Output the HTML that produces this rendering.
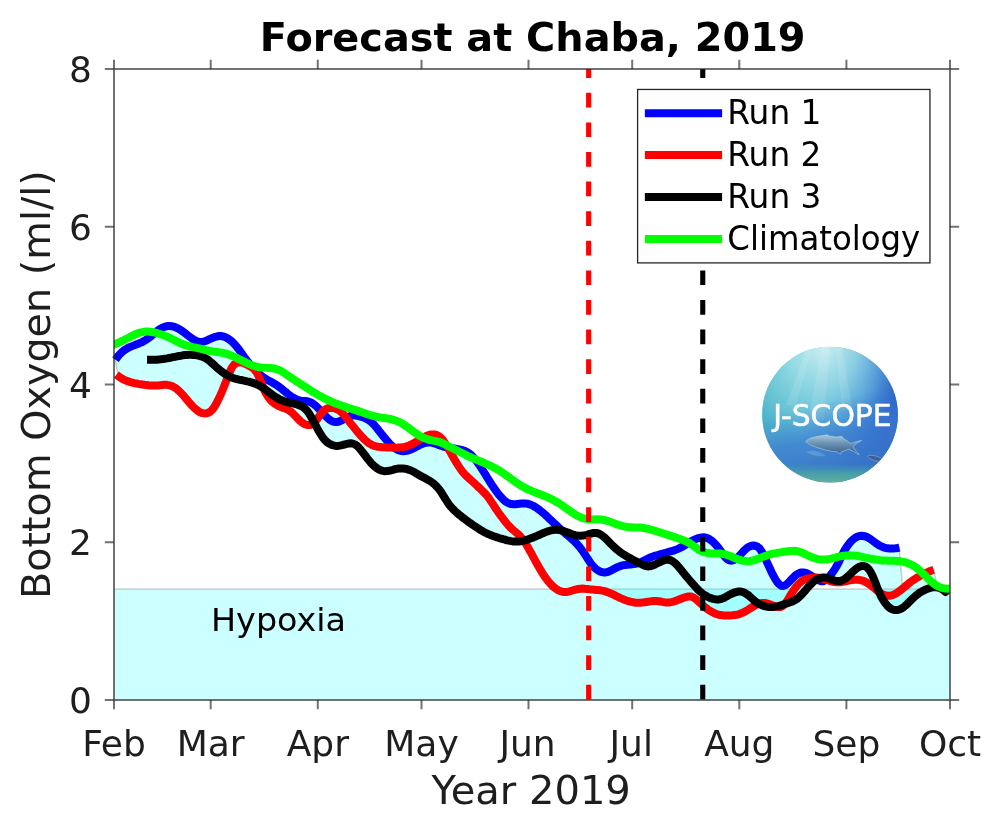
<!DOCTYPE html>
<html lang="en"><head><meta charset="utf-8"><title>Forecast at Chaba, 2019</title>
<style>
html,body{margin:0;padding:0;background:#fff;}
svg{display:block;}
text{font-family:"DejaVu Sans","Liberation Sans",sans-serif;}
.tk{font-size:36px;fill:#1e1e1e;}
.lb{font-size:40px;fill:#1e1e1e;}
.lg{font-size:32.8px;fill:#000;}
</style></head><body>
<svg width="1000" height="825" viewBox="0 0 1000 825">
<defs>
<clipPath id="ax"><rect x="114.0" y="69.0" width="836.0" height="631.0"/></clipPath>
<clipPath id="logoclip"><circle cx="830" cy="414.6" r="67.9"/></clipPath>
<linearGradient id="lgA" x1="0" y1="0" x2="1" y2="0">
<stop offset="0" stop-color="#4fb6c8"/><stop offset="0.3" stop-color="#5ec4d4"/><stop offset="0.56" stop-color="#58b4d8"/><stop offset="0.73" stop-color="#4090d4"/><stop offset="0.87" stop-color="#2e6cce"/><stop offset="1" stop-color="#2a5cc4"/>
</linearGradient>
<linearGradient id="lgB" x1="0.3" y1="0" x2="0.55" y2="1">
<stop offset="0" stop-color="#3c7ad0" stop-opacity="0"/><stop offset="0.42" stop-color="#3c7ad0" stop-opacity="0.08"/><stop offset="0.66" stop-color="#3b78d0" stop-opacity="0.75"/><stop offset="0.9" stop-color="#3672c8" stop-opacity="0.92"/><stop offset="1" stop-color="#3672c8" stop-opacity="0.92"/>
</linearGradient>
<radialGradient id="lgC" cx="0.45" cy="0" r="0.72" gradientTransform="translate(0.45 0) scale(0.85 1) translate(-0.45 0)">
<stop offset="0" stop-color="#d2f2f2" stop-opacity="0.95"/><stop offset="0.4" stop-color="#a8e4ea" stop-opacity="0.75"/><stop offset="0.75" stop-color="#8cd8e4" stop-opacity="0.35"/><stop offset="1" stop-color="#7fd4e0" stop-opacity="0"/>
</radialGradient>
<radialGradient id="lgD" cx="0.18" cy="0.25" r="0.4">
<stop offset="0" stop-color="#6accd2" stop-opacity="0.7"/><stop offset="1" stop-color="#6accd2" stop-opacity="0"/>
</radialGradient>
<linearGradient id="lgE" x1="0" y1="0" x2="0" y2="1">
<stop offset="0" stop-color="#3aa6a0" stop-opacity="0"/><stop offset="0.86" stop-color="#3f9ea8" stop-opacity="0"/><stop offset="0.93" stop-color="#4aa4a4" stop-opacity="0.85"/><stop offset="1" stop-color="#62b09c" stop-opacity="1"/>
</linearGradient>
<linearGradient id="fishg" x1="0" y1="0" x2="0" y2="1">
<stop offset="0" stop-color="#a8cadc"/><stop offset="0.45" stop-color="#6890b0"/><stop offset="1" stop-color="#3c5e90"/>
</linearGradient>
</defs>
<rect width="1000" height="825" fill="#fff"/>

<g clip-path="url(#ax)">
<rect x="114.0" y="589.6" width="836.0" height="110.4" fill="#00ffff" fill-opacity="0.2"/>
<line x1="114.0" y1="589.1" x2="950.0" y2="589.1" stroke="#000" stroke-opacity="0.17" stroke-width="1.8"/>
<path d="M115.0,359.7 L118.5,355.6 L121.9,352.0 L125.4,349.4 L128.9,347.5 L132.3,346.0 L135.8,344.7 L139.2,343.3 L142.7,341.7 L146.1,339.7 L149.6,337.3 L153.0,334.5 L156.5,331.6 L159.9,329.0 L163.4,327.2 L166.9,326.2 L170.3,326.0 L173.8,326.7 L177.2,328.0 L180.7,330.0 L184.1,332.5 L187.6,335.1 L191.0,337.8 L194.5,340.1 L197.9,341.6 L201.4,342.0 L204.9,341.2 L208.3,339.8 L211.8,338.2 L215.2,336.8 L218.7,336.1 L222.1,336.2 L225.6,337.3 L229.0,339.3 L232.5,342.2 L235.9,345.8 L239.4,350.2 L242.9,355.1 L246.3,359.9 L249.8,364.0 L253.2,367.9 L256.7,371.7 L260.1,374.9 L263.6,377.5 L267.0,379.6 L270.5,381.5 L273.9,383.5 L277.4,385.7 L280.9,388.2 L284.3,390.9 L287.8,393.8 L291.2,396.4 L294.7,398.5 L298.1,400.0 L301.6,400.7 L305.0,401.0 L308.5,401.5 L311.9,403.0 L315.4,405.5 L318.9,408.8 L322.3,412.1 L325.8,409.1 L329.2,408.0 L332.7,408.1 L336.1,408.9 L339.6,410.7 L343.0,413.9 L346.5,417.6 L349.9,416.1 L353.4,415.5 L356.9,415.7 L360.3,416.5 L363.8,417.6 L367.2,419.1 L370.7,421.5 L374.1,424.9 L377.6,429.0 L381.0,433.3 L384.5,437.7 L387.9,441.8 L391.4,445.4 L394.9,447.7 L398.3,447.6 L401.8,447.4 L405.2,446.7 L408.7,445.6 L412.1,444.0 L415.6,442.1 L419.0,439.9 L422.5,437.8 L425.9,436.1 L429.4,434.9 L432.9,434.4 L436.3,434.8 L439.8,436.8 L443.2,440.6 L446.7,445.8 L450.1,448.0 L453.6,448.5 L457.0,449.1 L460.5,449.7 L463.9,450.7 L467.4,452.2 L470.9,454.7 L474.3,458.3 L477.8,462.8 L481.2,467.9 L484.7,473.4 L488.1,479.0 L491.6,484.5 L495.0,489.6 L498.5,494.2 L501.9,498.2 L505.4,501.3 L508.9,503.4 L512.3,504.2 L515.8,504.2 L519.2,503.8 L522.7,503.5 L526.1,503.5 L529.6,504.3 L533.0,505.8 L536.5,507.8 L539.9,510.3 L543.4,513.2 L546.9,516.3 L550.3,519.6 L553.8,522.9 L557.2,526.1 L560.7,529.3 L564.1,531.2 L567.6,532.5 L571.0,533.8 L574.5,534.9 L577.9,535.7 L581.4,535.8 L584.9,535.3 L588.3,534.4 L591.8,533.4 L595.2,532.9 L598.7,533.6 L602.1,535.5 L605.6,538.4 L609.0,541.9 L612.5,545.5 L615.9,548.7 L619.4,551.5 L622.9,554.0 L626.3,556.1 L629.8,558.1 L633.2,559.9 L636.7,561.8 L640.1,562.5 L643.6,560.9 L647.0,559.0 L650.5,557.4 L653.9,556.1 L657.4,555.1 L660.9,554.2 L664.3,553.2 L667.8,552.2 L671.2,551.2 L674.7,550.2 L678.1,548.9 L681.6,547.2 L685.0,545.1 L688.5,542.9 L691.9,540.9 L695.4,539.2 L698.9,537.9 L702.3,537.3 L705.8,537.6 L709.2,539.0 L712.7,541.6 L716.1,545.1 L719.6,549.4 L723.0,554.3 L726.5,558.5 L729.9,560.6 L733.4,560.3 L736.9,558.0 L740.3,554.7 L743.8,551.0 L747.2,547.8 L750.7,546.0 L754.1,545.6 L757.6,546.8 L761.0,550.4 L764.5,556.8 L767.9,564.3 L771.4,571.8 L774.9,578.4 L778.3,583.4 L781.8,585.8 L785.2,585.3 L788.7,582.3 L792.1,578.7 L795.6,575.3 L799.0,573.2 L802.5,572.4 L805.9,573.0 L809.4,574.6 L812.9,576.8 L816.3,577.6 L819.8,578.0 L823.2,577.5 L826.7,577.9 L830.1,575.4 L833.6,571.0 L837.0,565.5 L840.5,558.5 L843.9,551.4 L847.4,545.9 L850.9,541.6 L854.3,538.4 L857.8,536.5 L861.2,535.8 L864.7,536.2 L868.1,537.6 L871.6,539.9 L875.0,542.6 L878.5,544.9 L881.9,546.7 L885.4,547.9 L888.9,548.4 L892.3,548.5 L895.8,548.2 L899.2,547.6 L902.7,588.5 L906.1,585.6 L909.6,582.8 L913.0,580.2 L916.5,578.0 L919.9,576.0 L923.4,574.2 L926.9,572.5 L930.3,571.0 L933.8,569.9 L937.2,587.4 L940.7,588.4 L944.1,590.7 L944.1,590.7 L940.7,588.4 L937.2,587.4 L933.8,587.3 L930.3,587.9 L926.9,589.0 L923.4,590.6 L919.9,592.6 L916.5,595.1 L913.0,598.2 L909.6,601.6 L906.1,605.0 L902.7,607.8 L899.2,609.5 L895.8,610.0 L892.3,609.4 L888.9,607.2 L885.4,603.4 L881.9,598.0 L878.5,591.6 L875.0,588.8 L871.6,586.0 L868.1,583.4 L864.7,581.4 L861.2,580.2 L857.8,579.7 L854.3,579.8 L850.9,580.2 L847.4,580.8 L843.9,581.6 L840.5,582.2 L837.0,582.3 L833.6,581.9 L830.1,581.0 L826.7,579.9 L823.2,581.2 L819.8,580.8 L816.3,579.6 L812.9,582.2 L809.4,585.7 L805.9,589.7 L802.5,593.7 L799.0,597.2 L795.6,599.9 L792.1,601.6 L788.7,602.8 L785.2,603.9 L781.8,606.6 L778.3,607.0 L774.9,606.7 L771.4,607.0 L767.9,606.8 L764.5,606.1 L761.0,604.9 L757.6,604.2 L754.1,605.9 L750.7,608.1 L747.2,610.3 L743.8,612.2 L740.3,613.7 L736.9,614.7 L733.4,615.2 L729.9,615.4 L726.5,615.5 L723.0,615.4 L719.6,614.9 L716.1,613.9 L712.7,612.3 L709.2,610.3 L705.8,607.8 L702.3,605.0 L698.9,601.9 L695.4,598.8 L691.9,596.8 L688.5,596.5 L685.0,597.3 L681.6,598.6 L678.1,600.0 L674.7,601.2 L671.2,602.1 L667.8,602.4 L664.3,602.1 L660.9,601.6 L657.4,601.1 L653.9,601.0 L650.5,601.4 L647.0,601.9 L643.6,602.5 L640.1,602.7 L636.7,602.7 L633.2,602.3 L629.8,601.5 L626.3,600.5 L622.9,599.1 L619.4,597.6 L615.9,595.9 L612.5,594.3 L609.0,592.7 L605.6,591.4 L602.1,590.6 L598.7,590.2 L595.2,589.9 L591.8,589.6 L588.3,589.1 L584.9,588.7 L581.4,588.6 L577.9,589.0 L574.5,589.9 L571.0,590.9 L567.6,591.8 L564.1,592.0 L560.7,591.2 L557.2,589.6 L553.8,587.1 L550.3,583.7 L546.9,579.5 L543.4,574.6 L539.9,569.0 L536.5,562.9 L533.0,556.5 L529.6,550.3 L526.1,544.4 L522.7,540.9 L519.2,541.4 L515.8,541.6 L512.3,541.3 L508.9,540.7 L505.4,539.8 L501.9,538.9 L498.5,537.8 L495.0,536.7 L491.6,535.4 L488.1,534.0 L484.7,532.3 L481.2,530.3 L477.8,528.2 L474.3,525.9 L470.9,523.5 L467.4,521.0 L463.9,518.5 L460.5,515.8 L457.0,512.9 L453.6,509.7 L450.1,505.8 L446.7,501.0 L443.2,495.4 L439.8,490.2 L436.3,486.1 L432.9,483.0 L429.4,480.6 L425.9,478.7 L422.5,476.9 L419.0,475.0 L415.6,473.0 L412.1,471.1 L408.7,469.6 L405.2,468.8 L401.8,468.4 L398.3,468.6 L394.9,469.3 L391.4,470.2 L387.9,471.0 L384.5,471.1 L381.0,470.4 L377.6,468.7 L374.1,466.1 L370.7,462.5 L367.2,458.3 L363.8,453.7 L360.3,449.2 L356.9,445.6 L353.4,443.7 L349.9,443.4 L346.5,443.9 L343.0,444.9 L339.6,445.7 L336.1,445.8 L332.7,445.2 L329.2,443.7 L325.8,440.9 L322.3,436.8 L318.9,431.2 L315.4,424.9 L311.9,424.4 L308.5,425.0 L305.0,424.3 L301.6,422.2 L298.1,418.9 L294.7,415.3 L291.2,411.9 L287.8,409.7 L284.3,408.3 L280.9,407.0 L277.4,405.4 L273.9,403.1 L270.5,399.9 L267.0,395.3 L263.6,388.4 L260.1,386.1 L256.7,384.3 L253.2,383.0 L249.8,381.9 L246.3,381.1 L242.9,380.4 L239.4,379.7 L235.9,378.9 L232.5,377.8 L229.0,376.2 L225.6,382.6 L222.1,391.1 L218.7,398.9 L215.2,405.5 L211.8,410.3 L208.3,412.7 L204.9,413.4 L201.4,412.8 L197.9,411.0 L194.5,408.1 L191.0,404.5 L187.6,400.5 L184.1,396.4 L180.7,392.6 L177.2,389.3 L173.8,387.0 L170.3,385.5 L166.9,384.9 L163.4,384.9 L159.9,385.2 L156.5,385.6 L153.0,385.6 L149.6,385.4 L146.1,385.0 L142.7,384.6 L139.2,384.0 L135.8,383.4 L132.3,382.6 L128.9,381.6 L125.4,380.3 L121.9,378.5 L118.5,376.3 L115.0,359.7 Z" fill="#00ffff" fill-opacity="0.2" stroke="#000" stroke-opacity="0.18" stroke-width="1.6"/>
</g>
<path d="M115.5,359.7 L117.5,356.9 L119.5,354.5 L121.5,352.4 L123.5,350.8 L125.5,349.4 L127.5,348.2 L129.5,347.2 L131.5,346.4 L133.5,345.6 L135.5,344.8 L137.5,344.0 L139.5,343.2 L141.5,342.3 L143.5,341.3 L145.5,340.1 L147.5,338.8 L149.5,337.4 L151.5,335.8 L153.5,334.1 L155.5,332.4 L157.5,330.8 L159.5,329.3 L161.5,328.1 L163.5,327.2 L165.5,326.5 L167.5,326.1 L169.5,326.0 L171.5,326.2 L173.5,326.6 L175.5,327.3 L177.5,328.2 L179.5,329.3 L181.5,330.6 L183.5,332.0 L185.5,333.5 L187.5,335.1 L189.5,336.6 L191.5,338.1 L193.5,339.5 L195.5,340.6 L197.5,341.5 L199.5,341.9 L201.5,342.0 L203.5,341.6 L205.5,341.0 L207.5,340.2 L209.5,339.2 L211.5,338.3 L213.5,337.5 L215.5,336.8 L217.5,336.3 L219.5,336.0 L221.5,336.1 L223.5,336.5 L225.5,337.2 L227.5,338.3 L229.5,339.6 L231.5,341.2 L233.5,343.1 L235.5,345.3 L237.5,347.7 L239.5,350.3 L241.5,353.1 L243.5,356.0 L245.5,358.8 L247.5,361.4 L249.5,363.7 L251.5,366.0 L253.5,368.2 L255.5,370.4 L257.5,372.5 L259.5,374.4 L261.5,376.0 L263.5,377.5 L265.5,378.7 L267.5,379.9 L269.5,381.0 L271.5,382.1 L273.5,383.2 L275.5,384.4 L277.5,385.7 L279.5,387.1 L281.5,388.7 L283.5,390.3 L285.5,391.9 L287.5,393.6 L289.5,395.1 L291.5,396.6 L293.5,397.8 L295.5,398.9 L297.5,399.8 L299.5,400.4 L301.5,400.7 L303.5,400.9 L305.5,401.1 L307.5,401.3 L309.5,401.8 L311.5,402.7 L313.5,404.0 L315.5,405.6 L317.5,407.4 L319.5,409.5 L321.5,411.6 L323.5,413.9 L325.5,416.0 L327.5,418.0 L329.5,419.6 L331.5,420.9 L333.5,421.7 L335.5,422.1 L337.5,421.9 L339.5,421.3 L341.5,420.4 L343.5,419.3 L345.5,418.2 L347.5,417.1 L349.5,416.3 L351.5,415.7 L353.5,415.4 L355.5,415.5 L357.5,415.8 L359.5,416.3 L361.5,416.8 L363.5,417.5 L365.5,418.3 L367.5,419.3 L369.5,420.6 L371.5,422.3 L373.5,424.2 L375.5,426.5 L377.5,428.9 L379.5,431.4 L381.5,433.9 L383.5,436.5 L385.5,438.9 L387.5,441.3 L389.5,443.5 L391.5,445.5 L393.5,447.2 L395.5,448.6 L397.5,449.8 L399.5,450.6 L401.5,451.0 L403.5,451.2 L405.5,451.1 L407.5,450.7 L409.5,450.0 L411.5,449.2 L413.5,448.3 L415.5,447.2 L417.5,446.2 L419.5,445.1 L421.5,444.2 L423.5,443.4 L425.5,442.8 L427.5,442.5 L429.5,442.4 L431.5,442.6 L433.5,443.1 L435.5,443.8 L437.5,444.5 L439.5,445.3 L441.5,446.0 L443.5,446.6 L445.5,447.1 L447.5,447.5 L449.5,447.9 L451.5,448.2 L453.5,448.5 L455.5,448.8 L457.5,449.1 L459.5,449.5 L461.5,449.9 L463.5,450.5 L465.5,451.3 L467.5,452.3 L469.5,453.6 L471.5,455.3 L473.5,457.4 L475.5,459.7 L477.5,462.4 L479.5,465.3 L481.5,468.3 L483.5,471.5 L485.5,474.7 L487.5,478.0 L489.5,481.2 L491.5,484.3 L493.5,487.3 L495.5,490.2 L497.5,492.9 L499.5,495.4 L501.5,497.7 L503.5,499.7 L505.5,501.4 L507.5,502.7 L509.5,503.6 L511.5,504.1 L513.5,504.3 L515.5,504.2 L517.5,504.0 L519.5,503.8 L521.5,503.6 L523.5,503.4 L525.5,503.5 L527.5,503.7 L529.5,504.3 L531.5,505.0 L533.5,506.0 L535.5,507.2 L537.5,508.5 L539.5,510.0 L541.5,511.6 L543.5,513.3 L545.5,515.0 L547.5,516.9 L549.5,518.8 L551.5,520.7 L553.5,522.6 L555.5,524.5 L557.5,526.4 L559.5,528.3 L561.5,530.1 L563.5,531.8 L565.5,533.6 L567.5,535.3 L569.5,537.0 L571.5,538.7 L573.5,540.5 L575.5,542.5 L577.5,544.6 L579.5,546.9 L581.5,549.5 L583.5,552.3 L585.5,555.3 L587.5,558.5 L589.5,561.5 L591.5,564.4 L593.5,566.7 L595.5,568.6 L597.5,570.1 L599.5,571.2 L601.5,572.0 L603.5,572.4 L605.5,572.4 L607.5,572.0 L609.5,571.2 L611.5,570.3 L613.5,569.2 L615.5,568.2 L617.5,567.2 L619.5,566.3 L621.5,565.7 L623.5,565.2 L625.5,564.9 L627.5,564.7 L629.5,564.5 L631.5,564.4 L633.5,564.1 L635.5,563.8 L637.5,563.3 L639.5,562.7 L641.5,561.9 L643.5,560.9 L645.5,559.9 L647.5,558.8 L649.5,557.8 L651.5,557.0 L653.5,556.3 L655.5,555.6 L657.5,555.1 L659.5,554.5 L661.5,554.0 L663.5,553.4 L665.5,552.9 L667.5,552.3 L669.5,551.7 L671.5,551.2 L673.5,550.6 L675.5,549.9 L677.5,549.1 L679.5,548.2 L681.5,547.2 L683.5,546.0 L685.5,544.8 L687.5,543.5 L689.5,542.3 L691.5,541.1 L693.5,540.1 L695.5,539.2 L697.5,538.4 L699.5,537.8 L701.5,537.4 L703.5,537.3 L705.5,537.5 L707.5,538.2 L709.5,539.2 L711.5,540.6 L713.5,542.3 L715.5,544.4 L717.5,546.7 L719.5,549.3 L721.5,552.1 L723.5,555.0 L725.5,557.5 L727.5,559.4 L729.5,560.4 L731.5,560.7 L733.5,560.2 L735.5,559.1 L737.5,557.5 L739.5,555.5 L741.5,553.4 L743.5,551.2 L745.5,549.3 L747.5,547.6 L749.5,546.5 L751.5,545.8 L753.5,545.6 L755.5,545.8 L757.5,546.7 L759.5,548.4 L761.5,551.2 L763.5,554.8 L765.5,558.9 L767.5,563.3 L769.5,567.7 L771.5,572.0 L773.5,575.9 L775.5,579.5 L777.5,582.4 L779.5,584.5 L781.5,585.8 L783.5,585.9 L785.5,585.1 L787.5,583.5 L789.5,581.5 L791.5,579.3 L793.5,577.3 L795.5,575.4 L797.5,574.0 L799.5,573.0 L801.5,572.5 L803.5,572.4 L805.5,572.9 L807.5,573.6 L809.5,574.7 L811.5,575.9 L813.5,577.2 L815.5,578.5 L817.5,579.7 L819.5,580.7 L821.5,581.3 L823.5,581.2 L825.5,580.2 L827.5,578.4 L829.5,576.2 L831.5,573.8 L833.5,571.1 L835.5,568.1 L837.5,564.6 L839.5,560.6 L841.5,556.3 L843.5,552.3 L845.5,548.7 L847.5,545.7 L849.5,543.2 L851.5,540.9 L853.5,539.1 L855.5,537.6 L857.5,536.6 L859.5,536.0 L861.5,535.8 L863.5,536.0 L865.5,536.5 L867.5,537.3 L869.5,538.4 L871.5,539.9 L873.5,541.4 L875.5,542.9 L877.5,544.3 L879.5,545.5 L881.5,546.5 L883.5,547.3 L885.5,547.9 L887.5,548.3 L889.5,548.5 L891.5,548.5 L893.5,548.5 L895.5,548.3 L897.5,548.0 L899.4,547.6" fill="none" stroke="#0000ff" stroke-width="8.0" stroke-linejoin="round" stroke-linecap="butt"/>
<path d="M116.4,374.6 L118.4,376.2 L120.4,377.6 L122.4,378.8 L124.4,379.8 L126.4,380.7 L128.4,381.4 L130.4,382.1 L132.4,382.6 L134.4,383.1 L136.4,383.5 L138.4,383.9 L140.4,384.2 L142.4,384.5 L144.4,384.8 L146.4,385.0 L148.4,385.3 L150.4,385.5 L152.4,385.6 L154.4,385.6 L156.4,385.6 L158.4,385.4 L160.4,385.2 L162.4,385.0 L164.4,384.8 L166.4,384.8 L168.4,385.1 L170.4,385.6 L172.4,386.3 L174.4,387.4 L176.4,388.7 L178.4,390.4 L180.4,392.3 L182.4,394.4 L184.4,396.7 L186.4,399.1 L188.4,401.5 L190.4,403.8 L192.4,406.0 L194.4,408.0 L196.4,409.8 L198.4,411.3 L200.4,412.4 L202.4,413.1 L204.4,413.4 L206.4,413.3 L208.4,412.7 L210.4,411.5 L212.4,409.5 L214.4,406.8 L216.4,403.4 L218.4,399.4 L220.4,395.1 L222.4,390.5 L224.4,385.6 L226.4,380.5 L228.4,375.3 L230.4,370.4 L232.4,366.7 L234.4,364.3 L236.4,363.0 L238.4,362.4 L240.4,362.3 L242.4,362.6 L244.4,363.3 L246.4,364.3 L248.4,365.4 L250.4,366.5 L252.4,367.8 L254.4,369.5 L256.4,372.0 L258.4,375.8 L260.4,380.5 L262.4,385.5 L264.4,390.3 L266.4,394.2 L268.4,397.3 L270.4,399.8 L272.4,401.8 L274.4,403.4 L276.4,404.8 L278.4,405.9 L280.4,406.8 L282.4,407.6 L284.4,408.3 L286.4,409.0 L288.4,410.0 L290.4,411.3 L292.4,413.0 L294.4,415.0 L296.4,417.1 L298.4,419.2 L300.4,421.2 L302.4,422.8 L304.4,424.0 L306.4,424.7 L308.4,425.0 L310.4,424.9 L312.4,424.2 L314.4,422.6 L316.4,420.2 L318.4,417.3 L320.4,414.5 L322.4,412.0 L324.4,410.1 L326.4,408.8 L328.4,408.1 L330.4,407.9 L332.4,408.0 L334.4,408.4 L336.4,409.0 L338.4,409.9 L340.4,411.3 L342.4,413.2 L344.4,415.5 L346.4,418.0 L348.4,420.5 L350.4,423.1 L352.4,425.6 L354.4,428.0 L356.4,430.5 L358.4,432.9 L360.4,435.2 L362.4,437.4 L364.4,439.4 L366.4,441.2 L368.4,442.8 L370.4,444.1 L372.4,445.2 L374.4,445.9 L376.4,446.5 L378.4,446.8 L380.4,447.0 L382.4,447.2 L384.4,447.3 L386.4,447.4 L388.4,447.5 L390.4,447.6 L392.4,447.6 L394.4,447.7 L396.4,447.7 L398.4,447.6 L400.4,447.5 L402.4,447.3 L404.4,446.9 L406.4,446.4 L408.4,445.7 L410.4,444.8 L412.4,443.9 L414.4,442.8 L416.4,441.6 L418.4,440.3 L420.4,439.1 L422.4,437.9 L424.4,436.8 L426.4,435.9 L428.4,435.1 L430.4,434.6 L432.4,434.4 L434.4,434.4 L436.4,434.9 L438.4,435.8 L440.4,437.4 L442.4,439.5 L444.4,442.2 L446.4,445.3 L448.4,448.7 L450.4,452.2 L452.4,455.7 L454.4,459.3 L456.4,462.7 L458.4,465.9 L460.4,468.9 L462.4,471.6 L464.4,473.9 L466.4,476.0 L468.4,477.9 L470.4,479.6 L472.4,481.4 L474.4,483.2 L476.4,485.1 L478.4,487.0 L480.4,488.9 L482.4,490.8 L484.4,492.8 L486.4,495.0 L488.4,497.5 L490.4,500.4 L492.4,503.4 L494.4,506.5 L496.4,509.6 L498.4,512.5 L500.4,515.3 L502.4,517.9 L504.4,520.5 L506.4,523.0 L508.4,525.3 L510.4,527.5 L512.4,529.4 L514.4,531.0 L516.4,532.7 L518.4,534.4 L520.4,536.4 L522.4,538.9 L524.4,541.7 L526.4,544.8 L528.4,548.2 L530.4,551.7 L532.4,555.4 L534.4,559.1 L536.4,562.7 L538.4,566.3 L540.4,569.7 L542.4,573.0 L544.4,576.1 L546.4,578.9 L548.4,581.5 L550.4,583.8 L552.4,585.9 L554.4,587.6 L556.4,589.1 L558.4,590.3 L560.4,591.2 L562.4,591.7 L564.4,592.0 L566.4,592.0 L568.4,591.6 L570.4,591.1 L572.4,590.5 L574.4,589.9 L576.4,589.4 L578.4,589.0 L580.4,588.7 L582.4,588.6 L584.4,588.7 L586.4,588.9 L588.4,589.1 L590.4,589.4 L592.4,589.6 L594.4,589.8 L596.4,590.0 L598.4,590.1 L600.4,590.3 L602.4,590.7 L604.4,591.1 L606.4,591.7 L608.4,592.5 L610.4,593.3 L612.4,594.2 L614.4,595.2 L616.4,596.2 L618.4,597.1 L620.4,598.1 L622.4,598.9 L624.4,599.8 L626.4,600.5 L628.4,601.1 L630.4,601.7 L632.4,602.1 L634.4,602.5 L636.4,602.7 L638.4,602.7 L640.4,602.7 L642.4,602.6 L644.4,602.3 L646.4,602.0 L648.4,601.7 L650.4,601.4 L652.4,601.1 L654.4,601.0 L656.4,601.0 L658.4,601.2 L660.4,601.5 L662.4,601.9 L664.4,602.2 L666.4,602.4 L668.4,602.4 L670.4,602.2 L672.4,601.8 L674.4,601.3 L676.4,600.6 L678.4,599.8 L680.4,599.0 L682.4,598.2 L684.4,597.5 L686.4,596.9 L688.4,596.5 L690.4,596.4 L692.4,597.0 L694.4,598.1 L696.4,599.7 L698.4,601.4 L700.4,603.3 L702.4,605.0 L704.4,606.7 L706.4,608.3 L708.4,609.8 L710.4,611.1 L712.4,612.2 L714.4,613.2 L716.4,614.0 L718.4,614.6 L720.4,615.1 L722.4,615.3 L724.4,615.5 L726.4,615.5 L728.4,615.5 L730.4,615.4 L732.4,615.3 L734.4,615.1 L736.4,614.8 L738.4,614.3 L740.4,613.7 L742.4,612.8 L744.4,611.9 L746.4,610.8 L748.4,609.5 L750.4,608.2 L752.4,607.0 L754.4,605.8 L756.4,604.7 L758.4,603.9 L760.4,603.3 L762.4,603.0 L764.4,603.0 L766.4,603.3 L768.4,603.9 L770.4,604.5 L772.4,605.3 L774.4,606.1 L776.4,606.7 L778.4,607.0 L780.4,607.0 L782.4,606.2 L784.4,604.6 L786.4,602.0 L788.4,598.7 L790.4,595.3 L792.4,592.1 L794.4,589.2 L796.4,586.5 L798.4,584.2 L800.4,582.3 L802.4,580.7 L804.4,579.6 L806.4,578.8 L808.4,578.3 L810.4,577.9 L812.4,577.7 L814.4,577.6 L816.4,577.6 L818.4,577.7 L820.4,578.1 L822.4,578.6 L824.4,579.2 L826.4,579.8 L828.4,580.5 L830.4,581.1 L832.4,581.6 L834.4,582.0 L836.4,582.3 L838.4,582.3 L840.4,582.2 L842.4,581.9 L844.4,581.5 L846.4,581.1 L848.4,580.6 L850.4,580.2 L852.4,579.9 L854.4,579.7 L856.4,579.7 L858.4,579.8 L860.4,580.1 L862.4,580.6 L864.4,581.3 L866.4,582.3 L868.4,583.6 L870.4,585.1 L872.4,586.6 L874.4,588.3 L876.4,590.0 L878.4,591.5 L880.4,592.9 L882.4,594.1 L884.4,595.0 L886.4,595.6 L888.4,595.8 L890.4,595.7 L892.4,595.2 L894.4,594.3 L896.4,593.2 L898.4,591.8 L900.4,590.4 L902.4,588.7 L904.4,587.1 L906.4,585.4 L908.4,583.7 L910.4,582.1 L912.4,580.6 L914.4,579.3 L916.4,578.0 L918.4,576.9 L920.4,575.8 L922.4,574.7 L924.4,573.7 L926.4,572.7 L928.4,571.8 L930.4,571.0 L932.4,570.3 L933.7,569.9" fill="none" stroke="#ff0000" stroke-width="8.0" stroke-linejoin="round" stroke-linecap="butt"/>
<path d="M147.0,359.8 L149.0,359.8 L151.0,359.8 L153.0,359.8 L155.0,359.8 L157.0,359.7 L159.0,359.5 L161.0,359.3 L163.0,359.0 L165.0,358.7 L167.0,358.4 L169.0,358.0 L171.0,357.6 L173.0,357.2 L175.0,356.8 L177.0,356.4 L179.0,356.0 L181.0,355.7 L183.0,355.3 L185.0,355.1 L187.0,354.9 L189.0,354.8 L191.0,354.8 L193.0,354.9 L195.0,355.1 L197.0,355.4 L199.0,355.7 L201.0,356.3 L203.0,357.0 L205.0,357.9 L207.0,359.1 L209.0,360.5 L211.0,362.2 L213.0,364.0 L215.0,365.9 L217.0,367.7 L219.0,369.4 L221.0,371.0 L223.0,372.5 L225.0,373.9 L227.0,375.1 L229.0,376.2 L231.0,377.2 L233.0,378.0 L235.0,378.6 L237.0,379.1 L239.0,379.6 L241.0,380.0 L243.0,380.4 L245.0,380.8 L247.0,381.3 L249.0,381.7 L251.0,382.3 L253.0,382.9 L255.0,383.6 L257.0,384.5 L259.0,385.5 L261.0,386.6 L263.0,387.9 L265.0,389.3 L267.0,390.8 L269.0,392.3 L271.0,393.7 L273.0,395.2 L275.0,396.6 L277.0,397.8 L279.0,399.0 L281.0,400.0 L283.0,400.8 L285.0,401.5 L287.0,402.1 L289.0,402.6 L291.0,403.0 L293.0,403.4 L295.0,403.9 L297.0,404.4 L299.0,405.1 L301.0,406.0 L303.0,407.1 L305.0,408.7 L307.0,410.7 L309.0,413.4 L311.0,416.7 L313.0,420.3 L315.0,424.1 L317.0,427.9 L319.0,431.5 L321.0,434.8 L323.0,437.7 L325.0,440.2 L327.0,442.1 L329.0,443.5 L331.0,444.6 L333.0,445.3 L335.0,445.7 L337.0,445.9 L339.0,445.7 L341.0,445.4 L343.0,444.9 L345.0,444.3 L347.0,443.8 L349.0,443.4 L351.0,443.3 L353.0,443.6 L355.0,444.4 L357.0,445.8 L359.0,447.7 L361.0,450.1 L363.0,452.7 L365.0,455.3 L367.0,458.0 L369.0,460.5 L371.0,462.9 L373.0,465.0 L375.0,466.8 L377.0,468.3 L379.0,469.5 L381.0,470.4 L383.0,470.9 L385.0,471.2 L387.0,471.1 L389.0,470.8 L391.0,470.3 L393.0,469.8 L395.0,469.2 L397.0,468.8 L399.0,468.5 L401.0,468.4 L403.0,468.5 L405.0,468.7 L407.0,469.2 L409.0,469.8 L411.0,470.5 L413.0,471.5 L415.0,472.6 L417.0,473.8 L419.0,475.0 L421.0,476.2 L423.0,477.2 L425.0,478.2 L427.0,479.3 L429.0,480.4 L431.0,481.6 L433.0,483.1 L435.0,484.8 L437.0,486.8 L439.0,489.2 L441.0,491.9 L443.0,495.1 L445.0,498.3 L447.0,501.5 L449.0,504.4 L451.0,506.9 L453.0,509.1 L455.0,511.1 L457.0,512.9 L459.0,514.6 L461.0,516.2 L463.0,517.8 L465.0,519.3 L467.0,520.7 L469.0,522.2 L471.0,523.6 L473.0,525.0 L475.0,526.3 L477.0,527.7 L479.0,529.0 L481.0,530.2 L483.0,531.4 L485.0,532.5 L487.0,533.5 L489.0,534.4 L491.0,535.2 L493.0,536.0 L495.0,536.7 L497.0,537.3 L499.0,538.0 L501.0,538.6 L503.0,539.2 L505.0,539.7 L507.0,540.3 L509.0,540.7 L511.0,541.1 L513.0,541.4 L515.0,541.6 L517.0,541.6 L519.0,541.4 L521.0,541.2 L523.0,540.8 L525.0,540.3 L527.0,539.7 L529.0,539.0 L531.0,538.3 L533.0,537.6 L535.0,536.7 L537.0,535.9 L539.0,535.0 L541.0,534.1 L543.0,533.2 L545.0,532.4 L547.0,531.6 L549.0,531.0 L551.0,530.4 L553.0,530.1 L555.0,529.8 L557.0,529.8 L559.0,530.0 L561.0,530.3 L563.0,530.9 L565.0,531.5 L567.0,532.2 L569.0,533.0 L571.0,533.8 L573.0,534.5 L575.0,535.1 L577.0,535.5 L579.0,535.8 L581.0,535.8 L583.0,535.6 L585.0,535.3 L587.0,534.8 L589.0,534.2 L591.0,533.6 L593.0,533.1 L595.0,532.9 L597.0,533.1 L599.0,533.7 L601.0,534.8 L603.0,536.2 L605.0,537.9 L607.0,539.8 L609.0,541.9 L611.0,544.0 L613.0,546.0 L615.0,547.9 L617.0,549.6 L619.0,551.2 L621.0,552.7 L623.0,554.1 L625.0,555.3 L627.0,556.5 L629.0,557.7 L631.0,558.7 L633.0,559.8 L635.0,560.9 L637.0,561.9 L639.0,563.0 L641.0,564.0 L643.0,565.0 L645.0,565.8 L647.0,566.3 L649.0,566.4 L651.0,566.0 L653.0,565.4 L655.0,564.5 L657.0,563.5 L659.0,562.5 L661.0,561.6 L663.0,560.7 L665.0,560.1 L667.0,559.7 L669.0,559.8 L671.0,560.4 L673.0,561.5 L675.0,563.1 L677.0,565.0 L679.0,567.3 L681.0,569.7 L683.0,572.2 L685.0,574.7 L687.0,577.2 L689.0,579.5 L691.0,581.8 L693.0,584.1 L695.0,586.4 L697.0,588.6 L699.0,590.6 L701.0,592.4 L703.0,594.0 L705.0,595.3 L707.0,596.5 L709.0,597.5 L711.0,598.2 L713.0,598.8 L715.0,599.2 L717.0,599.4 L719.0,599.4 L721.0,599.0 L723.0,598.3 L725.0,597.3 L727.0,596.2 L729.0,595.1 L731.0,594.0 L733.0,593.1 L735.0,592.4 L737.0,591.8 L739.0,591.5 L741.0,591.6 L743.0,592.1 L745.0,593.0 L747.0,594.3 L749.0,595.8 L751.0,597.6 L753.0,599.4 L755.0,601.2 L757.0,602.7 L759.0,604.0 L761.0,604.9 L763.0,605.7 L765.0,606.3 L767.0,606.7 L769.0,606.9 L771.0,607.0 L773.0,606.9 L775.0,606.7 L777.0,606.3 L779.0,605.9 L781.0,605.3 L783.0,604.7 L785.0,604.0 L787.0,603.3 L789.0,602.7 L791.0,602.0 L793.0,601.2 L795.0,600.2 L797.0,598.9 L799.0,597.2 L801.0,595.3 L803.0,593.1 L805.0,590.8 L807.0,588.5 L809.0,586.2 L811.0,584.0 L813.0,582.1 L815.0,580.5 L817.0,579.2 L819.0,578.3 L821.0,577.8 L823.0,577.5 L825.0,577.6 L827.0,577.9 L829.0,578.5 L831.0,579.2 L833.0,580.0 L835.0,580.6 L837.0,581.0 L839.0,581.0 L841.0,580.7 L843.0,579.9 L845.0,578.8 L847.0,577.2 L849.0,575.3 L851.0,573.4 L853.0,571.4 L855.0,569.7 L857.0,568.1 L859.0,566.9 L861.0,566.2 L863.0,565.9 L865.0,566.3 L867.0,567.4 L869.0,569.5 L871.0,572.7 L873.0,576.8 L875.0,581.7 L877.0,587.0 L879.0,591.9 L881.0,596.2 L883.0,599.8 L885.0,602.8 L887.0,605.3 L889.0,607.3 L891.0,608.8 L893.0,609.6 L895.0,610.0 L897.0,610.0 L899.0,609.6 L901.0,608.8 L903.0,607.6 L905.0,606.0 L907.0,604.2 L909.0,602.2 L911.0,600.2 L913.0,598.2 L915.0,596.4 L917.0,594.7 L919.0,593.2 L921.0,591.9 L923.0,590.8 L925.0,589.8 L927.0,589.0 L929.0,588.3 L931.0,587.7 L933.0,587.3 L935.0,587.2 L937.0,587.3 L939.0,587.8 L941.0,588.6 L943.0,589.8 L945.0,591.5 L945.5,592.0 L950,587.6" fill="none" stroke="#000000" stroke-width="8.0" stroke-linejoin="round" stroke-linecap="butt" clip-path="url(#ax)"/>
<path d="M110.0,346.4 L112.0,345.5 L114.0,344.6 L116.0,343.7 L118.0,342.8 L120.0,341.9 L122.0,341.0 L124.0,340.0 L126.0,339.0 L128.0,338.0 L130.0,336.9 L132.0,335.9 L134.0,334.9 L136.0,334.0 L138.0,333.2 L140.0,332.6 L142.0,332.2 L144.0,331.8 L146.0,331.6 L148.0,331.6 L150.0,331.7 L152.0,332.0 L154.0,332.3 L156.0,332.8 L158.0,333.4 L160.0,334.0 L162.0,334.7 L164.0,335.4 L166.0,336.2 L168.0,337.1 L170.0,338.0 L172.0,339.0 L174.0,340.0 L176.0,341.1 L178.0,342.1 L180.0,343.0 L182.0,343.8 L184.0,344.6 L186.0,345.3 L188.0,345.9 L190.0,346.4 L192.0,346.9 L194.0,347.3 L196.0,347.7 L198.0,348.1 L200.0,348.6 L202.0,349.1 L204.0,349.6 L206.0,350.1 L208.0,350.6 L210.0,351.0 L212.0,351.3 L214.0,351.6 L216.0,351.9 L218.0,352.1 L220.0,352.4 L222.0,352.8 L224.0,353.2 L226.0,353.7 L228.0,354.3 L230.0,355.0 L232.0,355.8 L234.0,356.7 L236.0,357.6 L238.0,358.6 L240.0,359.6 L242.0,360.6 L244.0,361.6 L246.0,362.6 L248.0,363.5 L250.0,364.4 L252.0,365.2 L254.0,365.9 L256.0,366.5 L258.0,367.0 L260.0,367.4 L262.0,367.6 L264.0,367.7 L266.0,367.8 L268.0,367.9 L270.0,368.0 L272.0,368.2 L274.0,368.5 L276.0,369.0 L278.0,369.6 L280.0,370.5 L282.0,371.6 L284.0,372.8 L286.0,374.2 L288.0,375.6 L290.0,377.0 L292.0,378.4 L294.0,379.7 L296.0,381.0 L298.0,382.2 L300.0,383.5 L302.0,384.8 L304.0,386.1 L306.0,387.4 L308.0,388.7 L310.0,390.0 L312.0,391.3 L314.0,392.5 L316.0,393.7 L318.0,394.9 L320.0,396.0 L322.0,397.1 L324.0,398.1 L326.0,399.1 L328.0,400.1 L330.0,401.0 L332.0,401.9 L334.0,402.7 L336.0,403.5 L338.0,404.3 L340.0,405.0 L342.0,405.7 L344.0,406.4 L346.0,407.1 L348.0,407.8 L350.0,408.4 L352.0,409.0 L354.0,409.7 L356.0,410.3 L358.0,410.9 L360.0,411.6 L362.0,412.3 L364.0,413.0 L366.0,413.7 L368.0,414.4 L370.0,415.0 L372.0,415.6 L374.0,416.1 L376.0,416.6 L378.0,417.0 L380.0,417.4 L382.0,417.7 L384.0,418.0 L386.0,418.3 L388.0,418.6 L390.0,419.0 L392.0,419.5 L394.0,420.0 L396.0,420.7 L398.0,421.5 L400.0,422.4 L402.0,423.5 L404.0,424.7 L406.0,426.1 L408.0,427.5 L410.0,429.0 L412.0,430.5 L414.0,432.0 L416.0,433.4 L418.0,434.8 L420.0,436.0 L422.0,437.1 L424.0,438.0 L426.0,438.8 L428.0,439.5 L430.0,440.0 L432.0,440.4 L434.0,440.8 L436.0,441.2 L438.0,441.6 L440.0,442.2 L442.0,443.0 L444.0,443.9 L446.0,444.9 L448.0,445.9 L450.0,447.0 L452.0,448.0 L454.0,449.0 L456.0,450.0 L458.0,451.0 L460.0,452.0 L462.0,453.0 L464.0,454.0 L466.0,455.1 L468.0,456.1 L470.0,457.0 L472.0,457.9 L474.0,458.7 L476.0,459.6 L478.0,460.4 L480.0,461.2 L482.0,462.0 L484.0,462.9 L486.0,463.8 L488.0,464.7 L490.0,465.6 L492.0,466.6 L494.0,467.6 L496.0,468.7 L498.0,469.8 L500.0,471.0 L502.0,472.3 L504.0,473.7 L506.0,475.1 L508.0,476.5 L510.0,478.0 L512.0,479.5 L514.0,480.9 L516.0,482.4 L518.0,483.7 L520.0,485.0 L522.0,486.2 L524.0,487.3 L526.0,488.3 L528.0,489.3 L530.0,490.2 L532.0,491.1 L534.0,491.9 L536.0,492.7 L538.0,493.4 L540.0,494.2 L542.0,495.0 L544.0,495.8 L546.0,496.6 L548.0,497.5 L550.0,498.4 L552.0,499.4 L554.0,500.4 L556.0,501.5 L558.0,502.7 L560.0,504.0 L562.0,505.3 L564.0,506.7 L566.0,508.2 L568.0,509.6 L570.0,511.0 L572.0,512.4 L574.0,513.7 L576.0,514.9 L578.0,516.0 L580.0,517.0 L582.0,517.8 L584.0,518.4 L586.0,518.9 L588.0,519.2 L590.0,519.4 L592.0,519.4 L594.0,519.4 L596.0,519.3 L598.0,519.3 L600.0,519.4 L602.0,519.6 L604.0,520.0 L606.0,520.5 L608.0,521.1 L610.0,521.8 L612.0,522.5 L614.0,523.2 L616.0,524.0 L618.0,524.7 L620.0,525.3 L622.0,525.9 L624.0,526.3 L626.0,526.7 L628.0,527.0 L630.0,527.2 L632.0,527.3 L634.0,527.4 L636.0,527.4 L638.0,527.5 L640.0,527.6 L642.0,527.8 L644.0,528.1 L646.0,528.5 L648.0,528.9 L650.0,529.4 L652.0,529.9 L654.0,530.5 L656.0,531.1 L658.0,531.8 L660.0,532.4 L662.0,533.0 L664.0,533.7 L666.0,534.3 L668.0,534.9 L670.0,535.6 L672.0,536.3 L674.0,536.9 L676.0,537.6 L678.0,538.3 L680.0,539.0 L682.0,539.7 L684.0,540.5 L686.0,541.3 L688.0,542.3 L690.0,543.5 L692.0,544.9 L694.0,546.3 L696.0,547.8 L698.0,549.3 L700.0,550.5 L702.0,551.5 L704.0,552.2 L706.0,552.7 L708.0,553.1 L710.0,553.3 L712.0,553.4 L714.0,553.4 L716.0,553.4 L718.0,553.5 L720.0,553.6 L722.0,553.8 L724.0,554.2 L726.0,554.7 L728.0,555.3 L730.0,556.0 L732.0,556.8 L734.0,557.7 L736.0,558.5 L738.0,559.3 L740.0,560.0 L742.0,560.5 L744.0,560.9 L746.0,561.1 L748.0,561.2 L750.0,561.0 L752.0,560.6 L754.0,560.1 L756.0,559.5 L758.0,558.8 L760.0,558.0 L762.0,557.2 L764.0,556.4 L766.0,555.7 L768.0,555.0 L770.0,554.4 L772.0,553.9 L774.0,553.4 L776.0,553.1 L778.0,552.7 L780.0,552.4 L782.0,552.1 L784.0,551.8 L786.0,551.5 L788.0,551.2 L790.0,551.0 L792.0,550.9 L794.0,550.8 L796.0,551.0 L798.0,551.4 L800.0,552.0 L802.0,552.7 L804.0,553.6 L806.0,554.5 L808.0,555.5 L810.0,556.4 L812.0,557.2 L814.0,558.0 L816.0,558.6 L818.0,559.1 L820.0,559.4 L822.0,559.6 L824.0,559.6 L826.0,559.5 L828.0,559.3 L830.0,558.9 L832.0,558.5 L834.0,558.0 L836.0,557.4 L838.0,556.8 L840.0,556.4 L842.0,556.0 L844.0,555.7 L846.0,555.5 L848.0,555.4 L850.0,555.3 L852.0,555.4 L854.0,555.5 L856.0,555.7 L858.0,556.0 L860.0,556.4 L862.0,556.8 L864.0,557.3 L866.0,557.8 L868.0,558.2 L870.0,558.6 L872.0,559.0 L874.0,559.3 L876.0,559.6 L878.0,559.9 L880.0,560.2 L882.0,560.4 L884.0,560.5 L886.0,560.6 L888.0,560.7 L890.0,560.7 L892.0,560.8 L894.0,560.8 L896.0,560.9 L898.0,561.1 L900.0,561.3 L902.0,561.6 L904.0,562.0 L906.0,562.5 L908.0,563.2 L910.0,564.0 L912.0,565.0 L914.0,566.2 L916.0,567.5 L918.0,569.0 L920.0,570.7 L922.0,572.6 L924.0,574.5 L926.0,576.5 L928.0,578.5 L930.0,580.4 L932.0,582.2 L934.0,583.8 L936.0,585.2 L938.0,586.3 L940.0,587.2 L942.0,587.9 L944.0,588.4 L946.0,588.6 L948.0,588.7 L950.0,588.7 L952.0,588.7 L954.0,588.7" fill="none" stroke="#00ff00" stroke-width="8.0" stroke-linejoin="round" stroke-linecap="butt" clip-path="url(#ax)"/>
<line x1="588.65" y1="699.5" x2="588.65" y2="69.0" stroke="#ff0000" stroke-width="5.1" stroke-dasharray="14.7 14.9"/>
<line x1="702.75" y1="699.5" x2="702.75" y2="69.0" stroke="#000000" stroke-width="5.1" stroke-dasharray="14.7 14.9"/>
<rect x="114.0" y="69.0" width="836.0" height="631.0" fill="none" stroke="#262626" stroke-opacity="0.65" stroke-width="2"/>
<path d="M114.0,700.0 v9.2 M114.0,69.0 v-9.2 M210.7,700.0 v9.2 M210.7,69.0 v-9.2 M317.8,700.0 v9.2 M317.8,69.0 v-9.2 M421.5,700.0 v9.2 M421.5,69.0 v-9.2 M528.5,700.0 v9.2 M528.5,69.0 v-9.2 M632.2,700.0 v9.2 M632.2,69.0 v-9.2 M739.3,700.0 v9.2 M739.3,69.0 v-9.2 M846.4,700.0 v9.2 M846.4,69.0 v-9.2 M950.0,700.0 v9.2 M950.0,69.0 v-9.2 M114.0,700.0 h-9.2 M950.0,700.0 h9.2 M114.0,542.2 h-9.2 M950.0,542.2 h9.2 M114.0,384.5 h-9.2 M950.0,384.5 h9.2 M114.0,226.8 h-9.2 M950.0,226.8 h9.2 M114.0,69.0 h-9.2 M950.0,69.0 h9.2" fill="none" stroke="#262626" stroke-opacity="0.65" stroke-width="2"/>
<text class="tk" x="114.0" y="756.3" text-anchor="middle">Feb</text>
<text class="tk" x="210.7" y="756.3" text-anchor="middle">Mar</text>
<text class="tk" x="317.8" y="756.3" text-anchor="middle">Apr</text>
<text class="tk" x="421.5" y="756.3" text-anchor="middle">May</text>
<text class="tk" x="527.5" y="756.3" text-anchor="middle">Jun</text>
<text class="tk" x="631.2" y="756.3" text-anchor="middle">Jul</text>
<text class="tk" x="739.3" y="756.3" text-anchor="middle">Aug</text>
<text class="tk" x="846.4" y="756.3" text-anchor="middle">Sep</text>
<text class="tk" x="950.0" y="756.3" text-anchor="middle">Oct</text>
<text class="tk" x="91.8" y="713.1" text-anchor="end">0</text>
<text class="tk" x="91.8" y="555.4" text-anchor="end">2</text>
<text class="tk" x="91.8" y="397.6" text-anchor="end">4</text>
<text class="tk" x="91.8" y="239.8" text-anchor="end">6</text>
<text class="tk" x="91.8" y="82.1" text-anchor="end">8</text>
<text class="lb" x="531.2" y="804.3" text-anchor="middle" textLength="199.2" lengthAdjust="spacingAndGlyphs" style="font-size:39.3px">Year 2019</text>
<text class="lb" transform="translate(50.2,384.6) rotate(-90)" style="font-size:39.7px" text-anchor="middle">Bottom Oxygen (ml/l)</text>
<text x="532.7" y="50.5" text-anchor="middle" style="font-size:39.8px;font-weight:bold;fill:#000">Forecast at Chaba, 2019</text>
<text x="211" y="631" textLength="135" lengthAdjust="spacingAndGlyphs" style="font-size:32.5px;fill:#000">Hypoxia</text>
<rect x="637.6" y="89.45" width="292.35" height="173.45" fill="#fff" stroke="#262626" stroke-width="1.3"/>
<line x1="644.85" y1="113.2" x2="722.1" y2="113.2" stroke="#0000ff" stroke-width="8"/>
<text class="lg" x="727.3" y="124.3">Run 1</text>
<line x1="644.85" y1="155.1" x2="722.1" y2="155.1" stroke="#ff0000" stroke-width="8"/>
<text class="lg" x="727.3" y="166.3">Run 2</text>
<line x1="644.85" y1="197.0" x2="722.1" y2="197.0" stroke="#000000" stroke-width="8"/>
<text class="lg" x="727.3" y="208.3">Run 3</text>
<line x1="644.85" y1="238.9" x2="722.1" y2="238.9" stroke="#00ff00" stroke-width="8"/>
<text class="lg" x="727.3" y="250.3" textLength="193" lengthAdjust="spacingAndGlyphs">Climatology</text>
<g clip-path="url(#logoclip)">
<rect x="762" y="346.6" width="136" height="136" fill="url(#lgA)"/>
<rect x="762" y="346.6" width="136" height="136" fill="url(#lgD)"/>
<rect x="762" y="346.6" width="136" height="136" fill="url(#lgC)"/>
<path d="M822,346 L830,346 L824,420 L808,420 Z M836,346 L842,346 L852,410 L842,410 Z M806,350 L812,348 L796,405 L786,405 Z" fill="#ffffff" fill-opacity="0.12"/>
<rect x="762" y="346.6" width="136" height="136" fill="url(#lgB)"/>
<rect x="762" y="346.6" width="136" height="136" fill="url(#lgE)"/>
<path d="M805.5,441.6 C807,439.6 812,437 818,436.2 L822,435.6 L827.5,434.8 L829,436 C832,436.2 834,436.6 835.5,437 L842,436.4 L843.5,438.6 C846.5,440 848.5,442.4 850.5,443.4 L861.5,440.4 C857.5,442.6 854.5,444.6 853.2,446.6 C854.6,449.6 856.8,452.4 859.2,454.6 L849,449.2 C846.5,450.4 843.5,451.2 841.5,451.6 L840.5,454.2 L837,451.8 C831,451.6 825,450 820,448.4 C814,446.6 808.5,444.4 805.5,441.6 Z" fill="url(#fishg)" stroke="#b4d6e6" stroke-opacity="0.8" stroke-width="0.7"/>
<path d="M867.5,456.2 C870,454.6 876,455.2 881.5,458.4 L884,460 C880,462.4 872,461.4 867.5,456.2 Z" fill="#3f6296" stroke="#a8cce0" stroke-opacity="0.7" stroke-width="0.6"/>
<path d="M806,452 C812,449.5 820,451 826,456 C818,457 811,455.5 806,452 Z" fill="#8fc0e0" fill-opacity="0.35"/>
</g>
<text x="832.4" y="425.5" text-anchor="middle" textLength="118.3" lengthAdjust="spacingAndGlyphs" style="font-size:29.5px;fill:#fff;stroke:#fff;stroke-width:0.5px">J-SCOPE</text>

</svg></body></html>
